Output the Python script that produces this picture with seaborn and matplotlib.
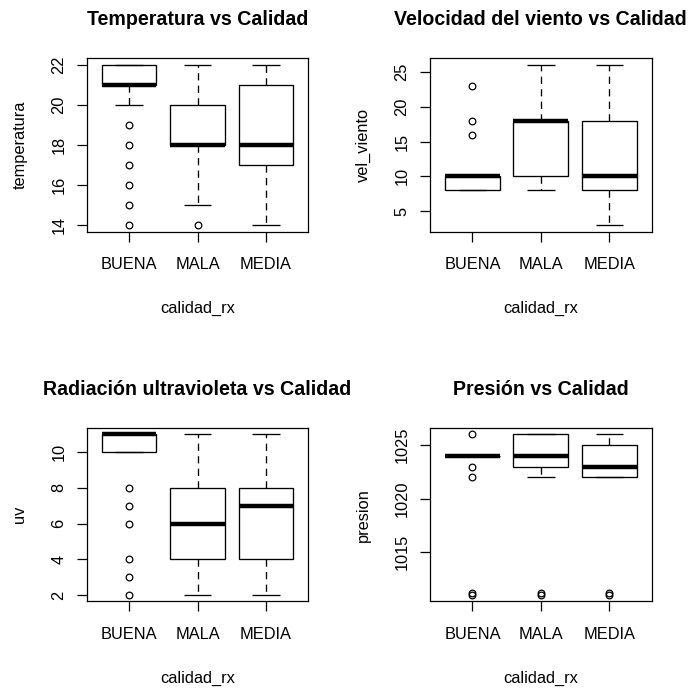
import matplotlib
matplotlib.use("Agg")
import matplotlib.pyplot as plt
import seaborn as sns
import pandas as pd
from matplotlib.ticker import MultipleLocator

# Quality groups on the x axis
categories = ["BUENA", "MALA", "MEDIA"]

# Temperature readings per quality group
temperatura_buena = [14, 15, 16, 17, 18, 19, 20] + [21] * 18 + [22] * 16
temperatura_mala = [14, 15, 16, 17] + [18] * 7 + [19] + [20] * 5 + [21] + [22] * 3
temperatura_media = [14, 15, 16, 17, 17, 17, 18, 18, 18, 18, 18, 19, 19, 20, 20,
                     21, 21, 21, 21, 22, 22]

# Wind speed readings per quality group
viento_buena = [8] * 7 + [10] * 11 + [16, 18, 23]
viento_mala = [8, 8, 9, 10, 10, 10, 12, 14, 16, 18, 18, 18, 18, 18, 18, 18,
               20, 22, 24, 26, 26]
viento_media = [3, 5, 7, 8, 8, 8, 9, 10, 10, 10, 10, 12, 14, 15, 16, 18,
                20, 22, 24, 26, 26]

# UV index readings per quality group
uv_buena = [2, 3, 4, 6, 7, 8] + [10] * 14 + [11] * 21
uv_mala = [2, 2, 3, 3, 4, 4, 5, 5, 6, 6, 6, 6, 7, 7, 8, 8, 9, 10, 11, 11, 11]
uv_media = [2, 3, 3, 4, 4, 4, 5, 6, 7, 7, 7, 7, 8, 8, 8, 8, 9, 10, 11, 11, 11]

# Pressure readings per quality group
presion_buena = [1011.0, 1011.2, 1022, 1023] + [1024] * 16 + [1026]
presion_mala = [1011.0, 1011.2, 1022, 1022, 1023, 1023, 1023, 1024, 1024, 1024,
                1024, 1024, 1025, 1025, 1026, 1026, 1026, 1026, 1026, 1026, 1026]
presion_media = [1011.0, 1011.2, 1022, 1022, 1022, 1022, 1022, 1023, 1023, 1023,
                 1023, 1024, 1024, 1024, 1025, 1025, 1025, 1025, 1026, 1026, 1026]

panels = [
    ("temperatura", "Temperatura vs Calidad",
     [temperatura_buena, temperatura_mala, temperatura_media], 2),
    ("vel_viento", "Velocidad del viento vs Calidad",
     [viento_buena, viento_mala, viento_media], 5),
    ("uv", "Radiación ultravioleta vs Calidad",
     [uv_buena, uv_mala, uv_media], 2),
    ("presion", "Presión vs Calidad",
     [presion_buena, presion_mala, presion_media], 5),
]

sns.set_style("white")
plt.rcParams["font.family"] = ["Liberation Sans", "DejaVu Sans"]
plt.rcParams["font.size"] = 11.75
plt.rcParams["axes.linewidth"] = 0.9
plt.rcParams["lines.solid_capstyle"] = "butt"

fig = plt.figure(figsize=(6.91, 6.91), dpi=100)
W = H = 691.0

# plot regions in pixels: (left, top, right, bottom)
regions = [
    (86.7, 58.3, 308.3, 231.7),
    (430.0, 58.3, 651.7, 231.7),
    (86.7, 428.0, 308.3, 601.3),
    (430.0, 428.0, 651.7, 601.3),
]

lw = 0.95
for (col, title, groups, step), (l, t, r, b) in zip(panels, regions):
    ax = fig.add_axes([l / W, 1 - b / H, (r - l) / W, (b - t) / H])
    df = pd.DataFrame({
        "calidad_rx": [c for c, g in zip(categories, groups) for _ in g],
        col: [v for g in groups for v in g],
    })
    sns.boxplot(
        data=df, x="calidad_rx", y=col, order=categories, ax=ax,
        color="white", linecolor="black", saturation=1, width=0.8,
        linewidth=lw, whis=1.5,
        medianprops=dict(linewidth=3.2, color="black", solid_capstyle="butt"),
        whiskerprops=dict(linestyle=(0, (5.5, 4)), color="black", linewidth=lw),
        capprops=dict(color="black", linewidth=lw),
        boxprops=dict(facecolor="white", edgecolor="black", linewidth=lw),
        flierprops=dict(marker="o", markersize=4.8, markerfacecolor="none",
                        markeredgecolor="black", markeredgewidth=0.9),
    )
    vals = df[col]
    span = vals.max() - vals.min()
    ax.set_ylim(vals.min() - 0.04 * span, vals.max() + 0.04 * span)
    ax.set_xlim(-0.62, 2.62)
    ax.yaxis.set_major_locator(MultipleLocator(step))

    for s in ax.spines.values():
        s.set_color("black")
        s.set_linewidth(0.9)
        s.set_visible(True)

    ax.tick_params(axis="both", which="major", direction="out", length=7.2,
                   width=0.9, color="black", labelcolor="black",
                   labelsize=11.75, left=True, bottom=True)
    ax.tick_params(axis="x", pad=11.0)
    ax.tick_params(axis="y", pad=7.5, labelrotation=90)
    for lab in ax.get_yticklabels():
        lab.set_va("center")

    ax.set_title(title, fontsize=14.1, fontweight="bold", pad=23.8,
                 color="black")
    ax.set_xlabel("calidad_rx", fontsize=11.75, color="black")
    ax.set_ylabel(col, fontsize=11.75, color="black")
    ax.xaxis.set_label_coords(0.5, -0.40)
    ax.yaxis.set_label_coords(-0.268, 0.5)

fig.savefig("out.png", dpi=100, facecolor="white")
